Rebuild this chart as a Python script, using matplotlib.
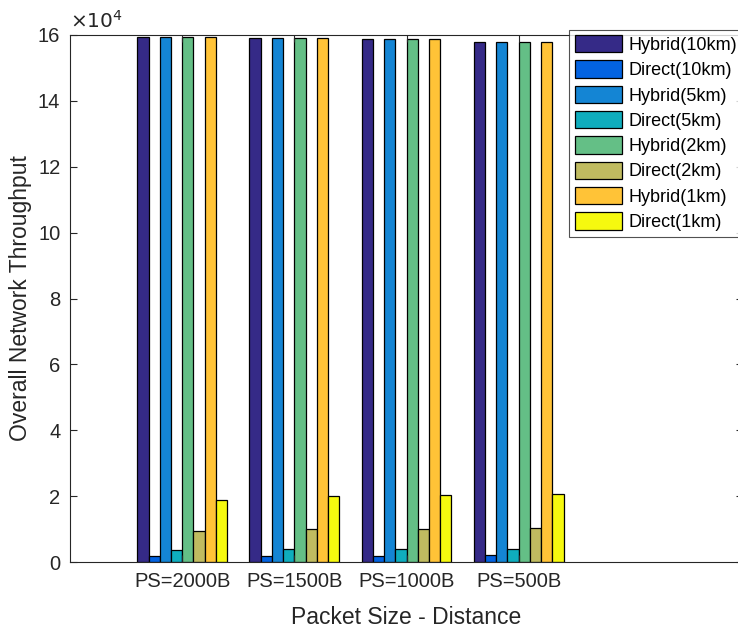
import numpy as np
import matplotlib
matplotlib.use("Agg")
import matplotlib.pyplot as plt
from matplotlib.ticker import FuncFormatter

plt.rcParams["font.family"] = ["Liberation Sans", "DejaVu Sans"]

# -------------------------------------------------------------------------
# DATA
# -------------------------------------------------------------------------
groups = ["PS=2000B", "PS=1500B", "PS=1000B", "PS=500B"]
series_names = [
    "Hybrid(10km)", "Direct(10km)", "Hybrid(5km)", "Direct(5km)",
    "Hybrid(2km)", "Direct(2km)", "Hybrid(1km)", "Direct(1km)",
]
hybrid_10km = [159300, 159100, 158800, 157800]
direct_10km = [1800, 1900, 1900, 2000]
hybrid_5km = [159300, 159100, 158800, 157800]
direct_5km = [3700, 3900, 3900, 4000]
hybrid_2km = [159300, 159100, 158800, 157800]
direct_2km = [9400, 9900, 10000, 10200]
hybrid_1km = [159300, 159100, 158800, 157800]
direct_1km = [18900, 19900, 20300, 20500]

series = [hybrid_10km, direct_10km, hybrid_5km, direct_5km,
          hybrid_2km, direct_2km, hybrid_1km, direct_1km]
colors = ["#352a87", "#0363e1", "#1485d4", "#0fadbd",
          "#64bf86", "#c0bb60", "#ffc337", "#f6f90f"]

# -------------------------------------------------------------------------
# PLOT
# -------------------------------------------------------------------------
fig = plt.figure(figsize=(7.38, 6.3), dpi=100)
ax = fig.add_axes([70 / 738, 68 / 630, 673 / 738, 527 / 630])

x = np.arange(1, len(groups) + 1)
n = len(series)
width = 0.1
for i, (vals, name, c) in enumerate(zip(series, series_names, colors)):
    offs = (i - (n - 1) / 2) * width
    ax.bar(x + offs, vals, width, color=c, edgecolor="black",
           linewidth=0.9, label=name)

ax.set_xlim(0, 6)
ax.set_ylim(0, 160000)
ax.set_xticks(x)
ax.set_xticklabels(groups)
ax.set_yticks(np.arange(0, 160001, 20000))
ax.yaxis.set_major_formatter(FuncFormatter(lambda v, p: f"{v / 1e4:g}"))

text_c = "#262626"
for s in ax.spines.values():
    s.set_color(text_c)
    s.set_linewidth(0.8)
ax.tick_params(direction="in", length=5, width=0.8, colors=text_c,
               labelsize=14.5, top=True, right=True, pad=7)

ax.set_xlabel("Packet Size - Distance", fontsize=16.5, color=text_c, labelpad=11)
ax.set_ylabel("Overall Network Throughput", fontsize=16.5, color=text_c, labelpad=4)
ax.text(0.0, 1.006, r"$\times10^4$", transform=ax.transAxes,
        fontsize=14.5, color=text_c, ha="left", va="bottom")

leg = ax.legend(loc="upper right", bbox_to_anchor=(1.0, 1.01), borderaxespad=0.0,
                fontsize=13, frameon=True, fancybox=False, edgecolor=text_c,
                handlelength=2.6, handleheight=1.1, handletextpad=0.4,
                labelspacing=0.36, borderpad=0.3)
leg.get_frame().set_linewidth(0.8)

fig.savefig("out.png", dpi=100, facecolor="white")
